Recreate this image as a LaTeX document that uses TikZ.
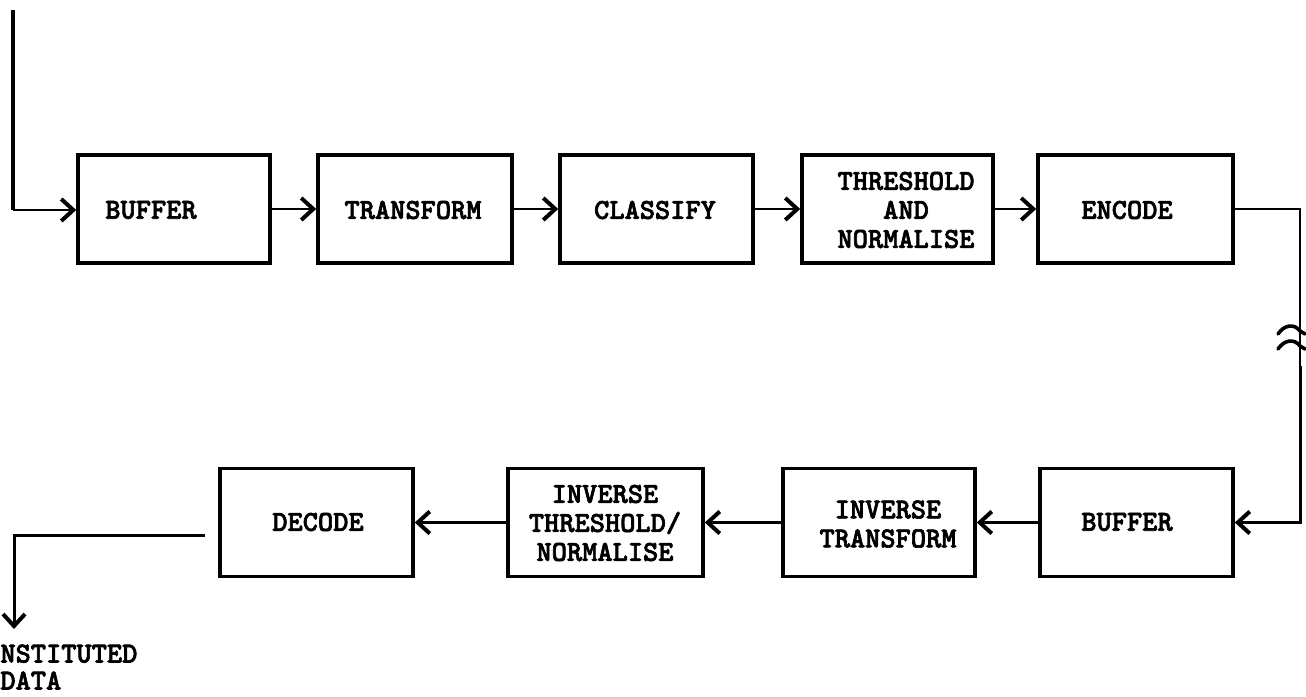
\documentclass[tikz,border=0pt]{standalone}
\usepackage{fontspec}
\newfontfamily\twfont[FakeBold=2.2]{lmmonolt10-bold.otf}
\usetikzlibrary{arrows.meta}
\begin{document}
\begin{tikzpicture}[x=0.5pt,y=-0.5pt,
  box/.style={draw, line width=1.8pt, inner sep=0pt, minimum height=54pt},
  lbl/.style={font=\twfont\fontsize{14.5}{14.5}\selectfont, align=center, inner sep=0pt},
  conn/.style={line width=1.1pt, -{Straight Barb[length=6pt,width=11pt,line width=2pt]}},
  plain/.style={line width=1.1pt},
  brk/.style={line width=1.8pt, line cap=round}]
\useasboundingbox (0,0) rectangle (1306,696);
% top row boxes
\node[box, minimum width=96pt] (b1) at (174,209) {};
\node[box, minimum width=97pt] (b2) at (415,209) {};
\node[box, minimum width=96.5pt] (b3) at (656.5,209) {};
\node[box, minimum width=95.5pt] (b4) at (897.5,209) {};
\node[box, minimum width=97.5pt] (b5) at (1135.5,209) {};
% bottom row boxes
\node[box, minimum width=96.5pt] (c1) at (1136.5,522.5) {};
\node[box, minimum width=96pt] (c2) at (879,522.5) {};
\node[box, minimum width=97.5pt] (c3) at (605.5,522.5) {};
\node[box, minimum width=96.5pt] (c4) at (316.5,522.5) {};
% labels
\node[lbl] (t1) at (151,210) {BUFFER};
\node[lbl] (t2) at (413,210) {TRANSFORM};
\node[lbl] (t3) at (655,210) {CLASSIFY};
\node[lbl] (t4) at (906,210) {THRESHOLD\\AND\\NORMALISE};
\node[lbl] (t5) at (1127,210) {ENCODE};
\node[lbl] (u1) at (1127,522) {BUFFER};
\node[lbl] (u2) at (888,524) {INVERSE\\TRANSFORM};
\node[lbl] (u3) at (605,523) {INVERSE\\THRESHOLD/\\NORMALISE};
\node[lbl] (u4) at (318,522) {DECODE};
\node[lbl, font=\twfont\fontsize{14.5}{13.5}\selectfont, anchor=west, align=left] (o) at (0,667) {NSTITUTED\\DATA};
% connectors
\coordinate (in) at (13,10);
\draw[line width=1.7pt] (in) -- (13,210);
\draw[conn] (13,210) -- (b1.west |- 0,210);
\draw[conn] (b1.east) -- (b2.west);
\draw[conn] (b2.east) -- (b3.west);
\draw[conn] (b3.east) -- (b4.west);
\draw[conn] (b4.east) -- (b5.west);
\coordinate (r) at (1300,366);
\draw[plain] (b5.east) -| (r);
\draw[conn, line width=1.5pt] (r) |- (c1.east);
\draw[conn] (c1.west) -- (c2.east);
\draw[conn] (c2.west) -- (c3.east);
\draw[conn] (c3.west) -- (c4.east);
\coordinate (o1) at (205,535);
\coordinate (out) at (14,629);
\draw[conn, line width=1.5pt] (o1) -| (out);
% break marks
\draw[brk] (1278,334) .. controls (1284,325) and (1294,323) .. (1300,331) -- (1305,334);
\draw[brk] (1278,349) .. controls (1284,340) and (1294,338) .. (1300,346) -- (1305,349);
\end{tikzpicture}
\end{document}
